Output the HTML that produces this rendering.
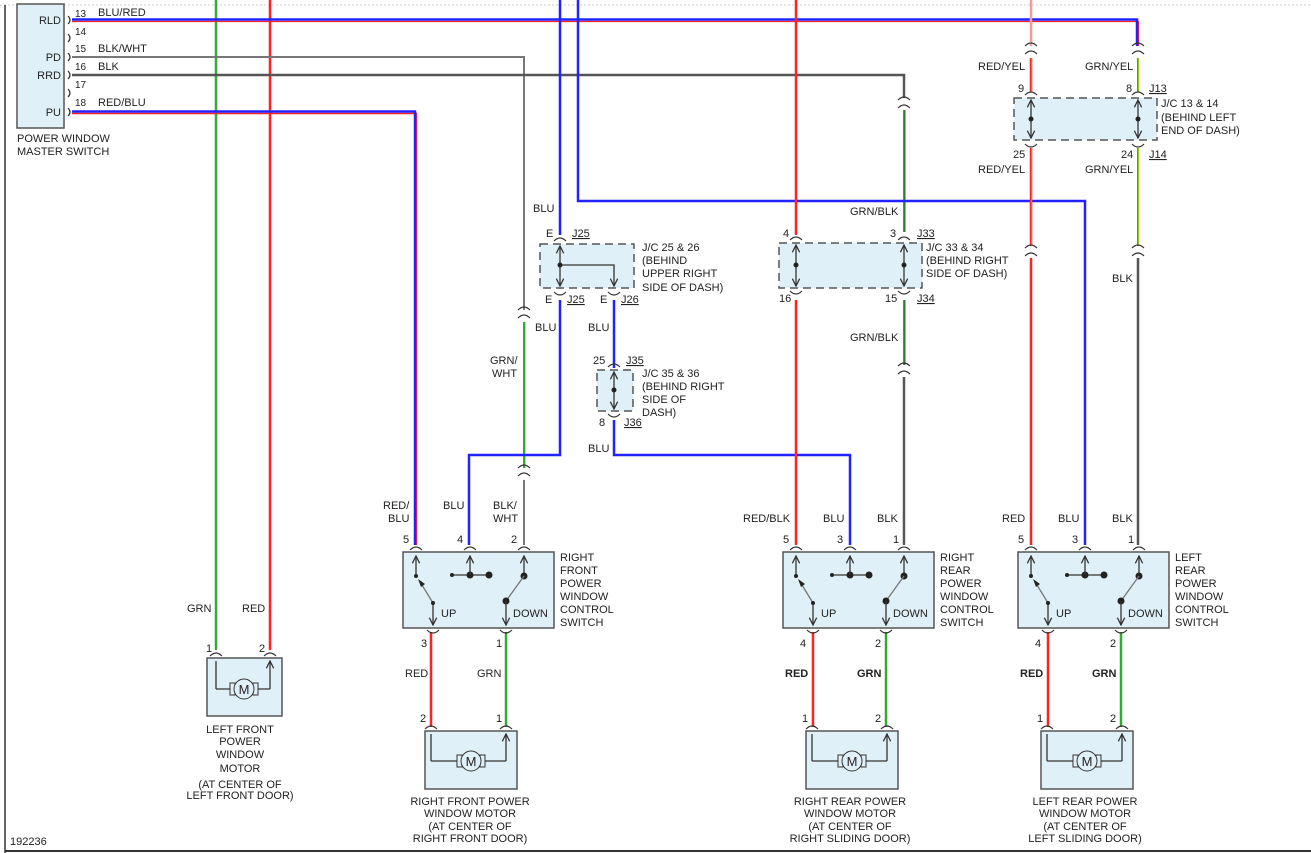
<!DOCTYPE html>
<html><head><meta charset="utf-8"><style>
html,body{margin:0;padding:0;background:#fff}
svg{display:block;font-family:"Liberation Sans",sans-serif;font-size:11px;fill:#222}
text{fill:#222}
.bx{fill:#e0f0f8;stroke:#555;stroke-width:1.5}
.db{fill:#e0f0f8;stroke:#555;stroke-width:1.5;stroke-dasharray:8 5}
.k{stroke:#333;stroke-width:1.3;fill:none}
.gk{stroke:#777;stroke-width:1.3;fill:none}
.c{stroke:#333;stroke-width:1.2;fill:none}
</style></head><body>
<svg width="1311" height="853" viewBox="0 0 1311 853" xmlns="http://www.w3.org/2000/svg">
<defs>
<marker id="a" viewBox="0 0 10 10" refX="9" refY="5" markerWidth="7" markerHeight="7" orient="auto-start-reverse"><path d="M1,1 L9,5 L1,9" fill="none" stroke="#333" stroke-width="1.4"/></marker>
<g id="sw">
<rect class="bx" x="0" y="0" width="151" height="76"/>
<line class="k" x1="13" y1="24" x2="13" y2="4" marker-end="url(#a)"/>
<circle cx="13" cy="24" r="2" fill="#222"/>
<line class="gk" x1="30" y1="51" x2="19" y2="33"/>
<path d="M15,27 L22,32 L18,35z" fill="#222"/>
<line class="k" x1="30" y1="51" x2="30" y2="73" marker-end="url(#a)"/>
<circle cx="30" cy="51" r="2" fill="#222"/>
<line class="k" x1="49" y1="23" x2="86" y2="23"/>
<circle cx="49" cy="23" r="2" fill="#222"/>
<circle cx="67" cy="23" r="3.5" fill="#222"/><circle cx="86" cy="23" r="3.5" fill="#222"/>
<line class="k" x1="67" y1="23" x2="67" y2="4" marker-end="url(#a)"/>
<line class="k" x1="121" y1="24" x2="121" y2="4" marker-end="url(#a)"/>
<circle cx="121" cy="24" r="3.5" fill="#222"/>
<line class="gk" x1="121" y1="24" x2="103" y2="49"/>
<circle cx="103" cy="49" r="3.5" fill="#222"/>
<line class="k" x1="103" y1="49" x2="103" y2="73" marker-end="url(#a)"/>
<text x="38" y="65">UP</text><text x="110" y="65">DOWN</text>
<path class="c" d="M7,-2 q6,-6 12,0 M61,-2 q6,-6 12,0 M115,-2 q6,-6 12,0 M24,78 q6,6 12,0 M97,78 q6,6 12,0"/>
</g>
<g id="mo">
<rect class="bx" x="0" y="0" width="92" height="58"/>
<path class="k" d="M6,30 V3 M81,30 V3" marker-end="url(#a)"/>
<path class="k" d="M6,30 H32 M60,30 H81"/>
<rect x="32" y="24" width="5" height="12" fill="#e0f0f8" stroke="#333"/><rect x="55" y="24" width="5" height="12" fill="#e0f0f8" stroke="#333"/>
<circle cx="46" cy="30" r="10" fill="#e0f0f8" stroke="#333"/>
<text x="46" y="35" text-anchor="middle" font-size="13">M</text>
<path class="c" d="M0,-2 q6,-6 12,0 M75,-2 q6,-6 12,0"/>
</g>
</defs>
<line x1="0" y1="5" x2="1311" y2="5" stroke="#ccc" stroke-dasharray="2 2"/>
<line x1="5" y1="5" x2="5" y2="853" stroke="#333" stroke-width="1.5"/>
<line x1="5" y1="851" x2="1311" y2="851" stroke="#333" stroke-width="2"/>
<text x="10" y="845">192236</text>

<rect class="bx" x="17" y="4" width="47" height="124"/>
<g text-anchor="end"><text x="61" y="24">RLD</text><text x="61" y="61">PD</text><text x="61" y="79">RRD</text><text x="61" y="116">PU</text></g>
<text x="17" y="142">POWER WINDOW</text><text x="17" y="155">MASTER SWITCH</text>
<g font-size="10"><text x="75" y="17">13</text><text x="75" y="35">14</text><text x="75" y="52">15</text><text x="75" y="70">16</text><text x="75" y="88">17</text><text x="75" y="106">18</text></g>
<text x="98" y="16">BLU/RED</text><text x="98" y="52">BLK/WHT</text><text x="98" y="70">BLK</text><text x="98" y="106">RED/BLU</text>
<path class="c" d="M68,16 q4,4 0,8 M68,34 q4,4 0,8 M68,53 q4,4 0,8 M68,71 q4,4 0,8 M68,89 q4,4 0,8 M68,108 q4,4 0,8"/>

<g fill="none">
<path d="M216,0 V650" stroke="#3a3" stroke-width="2.5"/>
<path d="M270,0 V650" stroke="#f22" stroke-width="2.5"/>
<path d="M72,21.5 H1138.5 V46" stroke="#f22" stroke-width="1.2"/>
<path d="M72,19.5 H1137 V46" stroke="#22f" stroke-width="2.5"/>
<path d="M72,57 H524 V310" stroke="#777" stroke-width="2"/>
<path d="M524,322 V468" stroke="#3a3" stroke-width="2"/><path d="M525.5,322 V468" stroke="#ccc" stroke-width="1"/>
<path d="M524,480 V545" stroke="#777" stroke-width="2"/>
<path d="M72,75 H904 V98" stroke="#555" stroke-width="2.5"/>
<path d="M904,110 V232" stroke="#3a3" stroke-width="2"/><path d="M905,110 V232" stroke="#333" stroke-width="0.8"/>
<path d="M72,113.5 H416.5 V545" stroke="#f22" stroke-width="1.5"/>
<path d="M72,111.5 H415 V545" stroke="#22f" stroke-width="2.5"/>
<path d="M560,0 V235" stroke="#22f" stroke-width="2.5"/>
<path d="M560,300 V455 H469 V545" stroke="#22f" stroke-width="2.5"/>
<path d="M578,0 V201 H1085 V545" stroke="#22f" stroke-width="2.5"/>
<path d="M614,300 V368" stroke="#22f" stroke-width="2.5"/>
<path d="M614,420 V455 H850 V545" stroke="#22f" stroke-width="2.5"/>
<path d="M796,0 V235 M796,300 V545" stroke="#f22" stroke-width="2.5"/>
<path d="M904,300 V365" stroke="#3a3" stroke-width="2"/><path d="M905,300 V365" stroke="#333" stroke-width="0.8"/>
<path d="M904,377 V545" stroke="#555" stroke-width="2.5"/>
<path d="M1031,0 V46" stroke="#f99" stroke-width="2.5"/>
<path d="M1031,58 V92 M1031,148 V246" stroke="#f22" stroke-width="2.5"/><path d="M1031.8,58 V92 M1031.8,148 V246" stroke="#fc0" stroke-width="0.5"/>
<path d="M1031,258 V545" stroke="#f22" stroke-width="2.5"/>
<path d="M1138,58 V92 M1138,148 V246" stroke="#3a3" stroke-width="2"/><path d="M1138.8,58 V92 M1138.8,148 V246" stroke="#ee0" stroke-width="0.6"/>
<path d="M1138,258 V545" stroke="#555" stroke-width="2.5"/>
<path d="M431,632 V727 M813,632 V727 M1048,632 V727" stroke="#f22" stroke-width="2.5"/>
<path d="M506,632 V727 M886,632 V727 M1121,632 V727" stroke="#3a3" stroke-width="2.5"/>
</g>
<path class="c" d="M518,310 q6,-6 12,0 M518,318 q6,-6 12,0 M518,468 q6,-6 12,0 M518,476 q6,-6 12,0 M898,100 q6,-6 12,0 M898,108 q6,-6 12,0 M898,366 q6,-6 12,0 M898,374 q6,-6 12,0 M1025,46 q6,-6 12,0 M1025,54 q6,-6 12,0 M1132,46 q6,-6 12,0 M1132,54 q6,-6 12,0 M1025,248 q6,-6 12,0 M1025,256 q6,-6 12,0 M1132,248 q6,-6 12,0 M1132,256 q6,-6 12,0"/>

<rect class="db" x="540" y="244" width="94" height="44"/>
<line class="k" x1="560" y1="266" x2="560" y2="246" marker-end="url(#a)"/><line class="k" x1="560" y1="266" x2="560" y2="286" marker-end="url(#a)"/>
<path class="k" d="M560,265 H614 V286" marker-end="url(#a)"/><circle cx="560" cy="265" r="2.5" fill="#222"/>
<path class="c" d="M554,241 q6,-6 12,0 M554,292 q6,6 12,0 M608,292 q6,6 12,0"/>
<text x="546" y="237">E</text><text x="572" y="237" text-decoration="underline">J25</text>
<text x="545" y="303">E</text><text x="567" y="303" text-decoration="underline">J25</text>
<text x="600" y="303">E</text><text x="621" y="303" text-decoration="underline">J26</text>
<text x="642" y="251">J/C 25 &amp; 26</text><text x="642" y="264">(BEHIND</text><text x="642" y="277">UPPER RIGHT</text><text x="642" y="291">SIDE OF DASH)</text>
<text x="533" y="212">BLU</text><text x="535" y="331">BLU</text><text x="588" y="331">BLU</text>
<text x="490" y="364">GRN/</text><text x="492" y="377">WHT</text>
<rect class="db" x="597" y="370" width="36" height="41"/>
<line class="k" x1="614" y1="390" x2="614" y2="372" marker-end="url(#a)"/><line class="k" x1="614" y1="390" x2="614" y2="409" marker-end="url(#a)"/><circle cx="614" cy="390" r="2.5" fill="#222"/>
<path class="c" d="M608,367 q6,-6 12,0 M608,414 q6,6 12,0"/>
<text x="593" y="364">25</text><text x="626" y="364" text-decoration="underline">J35</text>
<text x="599" y="426">8</text><text x="624" y="426" text-decoration="underline">J36</text>
<text x="642" y="377">J/C 35 &amp; 36</text><text x="642" y="390">(BEHIND RIGHT</text><text x="642" y="403">SIDE OF</text><text x="642" y="416">DASH)</text>
<text x="588" y="452">BLU</text>
<rect class="db" x="779" y="243" width="143" height="45"/>
<line class="k" x1="796" y1="265" x2="796" y2="245" marker-end="url(#a)"/><line class="k" x1="796" y1="265" x2="796" y2="286" marker-end="url(#a)"/><circle cx="796" cy="265" r="2.5" fill="#222"/>
<line class="k" x1="904" y1="265" x2="904" y2="245" marker-end="url(#a)"/><line class="k" x1="904" y1="265" x2="904" y2="286" marker-end="url(#a)"/><circle cx="904" cy="265" r="2.5" fill="#222"/>
<path class="c" d="M790,240 q6,-6 12,0 M898,240 q6,-6 12,0 M790,291 q6,6 12,0 M898,291 q6,6 12,0"/>
<text x="783" y="237">4</text><text x="890" y="237">3</text><text x="917" y="237" text-decoration="underline">J33</text>
<text x="779" y="302">16</text><text x="885" y="302">15</text><text x="917" y="302" text-decoration="underline">J34</text>
<text x="926" y="251">J/C 33 &amp; 34</text><text x="926" y="264">(BEHIND RIGHT</text><text x="926" y="277">SIDE OF DASH)</text>
<text x="850" y="215">GRN/BLK</text><text x="850" y="341">GRN/BLK</text>
<rect class="db" x="1014" y="98" width="143" height="42"/>
<line class="k" x1="1031" y1="119" x2="1031" y2="100" marker-end="url(#a)"/><line class="k" x1="1031" y1="119" x2="1031" y2="138" marker-end="url(#a)"/><circle cx="1031" cy="119" r="2.5" fill="#222"/>
<line class="k" x1="1138" y1="119" x2="1138" y2="100" marker-end="url(#a)"/><line class="k" x1="1138" y1="119" x2="1138" y2="138" marker-end="url(#a)"/><circle cx="1138" cy="119" r="2.5" fill="#222"/>
<path class="c" d="M1025,95 q6,-6 12,0 M1132,95 q6,-6 12,0 M1025,144 q6,6 12,0 M1132,144 q6,6 12,0"/>
<text x="1018" y="92">9</text><text x="1126" y="92">8</text><text x="1149" y="92" text-decoration="underline">J13</text>
<text x="1013" y="158">25</text><text x="1121" y="158">24</text><text x="1149" y="158" text-decoration="underline">J14</text>
<text x="1161" y="107">J/C 13 &amp; 14</text><text x="1161" y="121">(BEHIND LEFT</text><text x="1161" y="134">END OF DASH)</text>
<text x="978" y="70">RED/YEL</text><text x="1085" y="70">GRN/YEL</text><text x="978" y="173">RED/YEL</text><text x="1085" y="173">GRN/YEL</text>
<text x="1112" y="282">BLK</text>

<use href="#sw" x="403" y="552"/><use href="#sw" x="783" y="552"/><use href="#sw" x="1018" y="552"/>
<g>
<text x="560" y="561">RIGHT</text><text x="560" y="574">FRONT</text><text x="560" y="587">POWER</text><text x="560" y="600">WINDOW</text><text x="560" y="613">CONTROL</text><text x="560" y="626">SWITCH</text>
<text x="940" y="561">RIGHT</text><text x="940" y="574">REAR</text><text x="940" y="587">POWER</text><text x="940" y="600">WINDOW</text><text x="940" y="613">CONTROL</text><text x="940" y="626">SWITCH</text>
<text x="1175" y="561">LEFT</text><text x="1175" y="574">REAR</text><text x="1175" y="587">POWER</text><text x="1175" y="600">WINDOW</text><text x="1175" y="613">CONTROL</text><text x="1175" y="626">SWITCH</text>
</g>
<g font-size="11">
<text x="403" y="543">5</text><text x="457" y="543">4</text><text x="511" y="543">2</text><text x="421" y="647">3</text><text x="496" y="647">1</text>
<text x="783" y="543">5</text><text x="837" y="543">3</text><text x="893" y="543">1</text><text x="800" y="647">4</text><text x="875" y="647">2</text>
<text x="1018" y="543">5</text><text x="1072" y="543">3</text><text x="1128" y="543">1</text><text x="1035" y="647">4</text><text x="1110" y="647">2</text>
</g>
<text x="383" y="509">RED/</text><text x="388" y="522">BLU</text><text x="443" y="509">BLU</text><text x="493" y="509">BLK/</text><text x="493" y="522">WHT</text>
<text x="743" y="522">RED/BLK</text><text x="823" y="522">BLU</text><text x="877" y="522">BLK</text>
<text x="1002" y="522">RED</text><text x="1058" y="522">BLU</text><text x="1112" y="522">BLK</text>
<text x="187" y="612">GRN</text><text x="242" y="612">RED</text>
<text x="405" y="677">RED</text><text x="477" y="677">GRN</text>
<g font-weight="bold"><text x="785" y="677">RED</text><text x="857" y="677">GRN</text><text x="1020" y="677">RED</text><text x="1092" y="677">GRN</text></g>

<rect class="bx" x="207" y="658" width="75" height="58"/>
<path class="k" d="M216,689 V661 M270,689 V661" marker-end="url(#a)"/>
<path class="k" d="M216,689 H230 M258,689 H270"/>
<rect x="230" y="683" width="5" height="12" fill="#e0f0f8" stroke="#333"/><rect x="253" y="683" width="5" height="12" fill="#e0f0f8" stroke="#333"/>
<circle cx="244" cy="689" r="10" fill="#e0f0f8" stroke="#333"/><text x="244" y="694" text-anchor="middle" font-size="13">M</text>
<path class="c" d="M210,656 q6,-6 12,0 M264,656 q6,-6 12,0"/>
<text x="206" y="652">1</text><text x="259" y="652">2</text>
<use href="#mo" x="425" y="731"/><use href="#mo" x="806" y="731"/><use href="#mo" x="1041" y="731"/>
<text x="420" y="722">2</text><text x="496" y="722">1</text><text x="802" y="722">1</text><text x="875" y="722">2</text><text x="1037" y="722">1</text><text x="1110" y="722">2</text>
<g text-anchor="middle">
<text x="240" y="733">LEFT FRONT</text><text x="240" y="745">POWER</text><text x="240" y="758">WINDOW</text><text x="240" y="772">MOTOR</text><text x="240" y="788">(AT CENTER OF</text><text x="240" y="799">LEFT FRONT DOOR)</text>
<text x="470" y="805">RIGHT FRONT POWER</text><text x="470" y="817">WINDOW MOTOR</text><text x="470" y="830">(AT CENTER OF</text><text x="470" y="842">RIGHT FRONT DOOR)</text>
<text x="850" y="805">RIGHT REAR POWER</text><text x="850" y="817">WINDOW MOTOR</text><text x="850" y="830">(AT CENTER OF</text><text x="850" y="842">RIGHT SLIDING DOOR)</text>
<text x="1085" y="805">LEFT REAR POWER</text><text x="1085" y="817">WINDOW MOTOR</text><text x="1085" y="830">(AT CENTER OF</text><text x="1085" y="842">LEFT SLIDING DOOR)</text>
</g>
</svg>
</body></html>
